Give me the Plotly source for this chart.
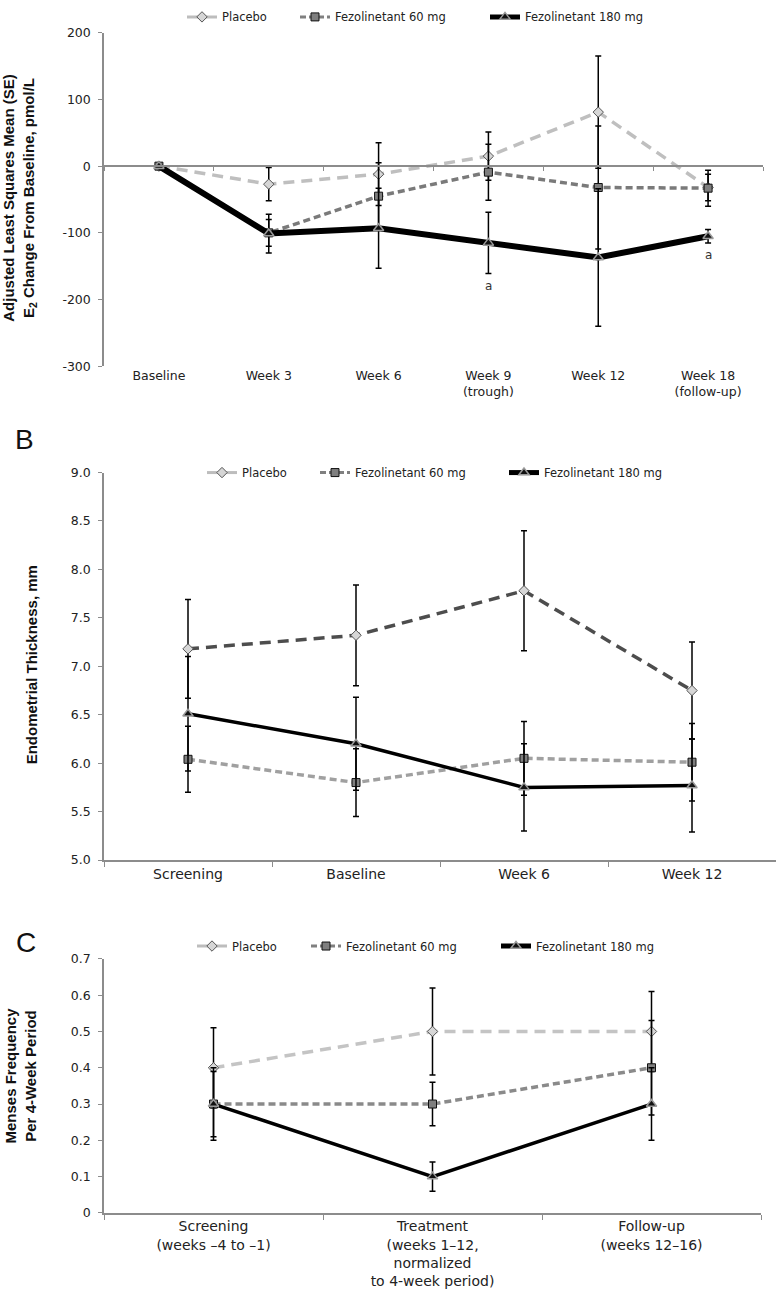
import plotly.graph_objects as go

# ---------------- Data ----------------
series_names = ["Placebo", "Fezolinetant 60 mg", "Fezolinetant 180 mg"]

# Panel A: E2 change from baseline (pmol/L)
a_cats = ["Baseline", "Week 3", "Week 6", "Week 9<br>(trough)", "Week 12", "Week 18<br>(follow-up)"]
a_placebo = [0, -27, -12, 15, 81, -32]
a_placebo_se = [None, 25, 47, 36, 84, 20]
a_fez60 = [0, -100, -45, -9, -32, -33]
a_fez60_se = [None, 20, 50, 42, 92, 27]
a_fez180 = [0, -101, -93, -115, -137, -105]
a_fez180_se = [None, 29, 60, 46, 103, 10]
a_sig_idx = [3, 5]  # points marked "a"
a_yticks = [-300, -200, -100, 0, 100, 200]
a_yticktext = ["-300", "-200", "-100", "0", "100", "200"]

# Panel B: Endometrial thickness (mm)
b_cats = ["Screening", "Baseline", "Week 6", "Week 12"]
b_placebo = [7.18, 7.32, 7.78, 6.75]
b_placebo_se = [0.51, 0.52, 0.62, 0.50]
b_fez60 = [6.04, 5.80, 6.05, 6.01]
b_fez60_se = [0.34, 0.35, 0.38, 0.40]
b_fez180 = [6.51, 6.20, 5.75, 5.77]
b_fez180_se = [0.59, 0.48, 0.45, 0.48]
b_yticks = [5.0, 5.5, 6.0, 6.5, 7.0, 7.5, 8.0, 8.5, 9.0]

# Panel C: Menses frequency per 4-week period
c_cats = ["Screening<br>(weeks \u20134 to \u20131)",
          "Treatment<br>(weeks 1\u201312,<br>normalized<br>to 4-week period)",
          "Follow-up<br>(weeks 12\u201316)"]
c_placebo = [0.40, 0.50, 0.50]
c_placebo_se = [0.11, 0.12, 0.11]
c_fez60 = [0.30, 0.30, 0.40]
c_fez60_se = [0.09, 0.06, 0.13]
c_fez180 = [0.30, 0.10, 0.30]
c_fez180_se = [0.10, 0.04, 0.10]
c_yticks = [0, 0.1, 0.2, 0.3, 0.4, 0.5, 0.6, 0.7]

# ---------------- Styles ----------------
W, H = 776, 1298
TICKFONT = "DejaVu Sans"
TITLEFONT = "Liberation Sans, Arial, sans-serif"
AXC = "#8c8c8c"

def py(px):
    return 1 - px / H

def pxx(px):
    return px / W

marker_styles = [
    dict(symbol="diamond", size=8, color="#d6d6d6", line=dict(color="#555555", width=1)),
    dict(symbol="square", size=8, color="#7f7f7f", line=dict(color="#111111", width=1)),
    dict(symbol="triangle-up", size=9, color="#111111", line=dict(color="#9a9a9a", width=1.5)),
]
legend_lines = [
    dict(color="#bdbdbd", width=3, dash="solid"),
    dict(color="#808080", width=3, dash="6px,3px"),
    dict(color="#000000", width=5, dash="solid"),
]

panel_lines = {
    "A": [dict(color="#bfbfbf", width=3.5, dash="11px,7px"),
          dict(color="#7a7a7a", width=3.5, dash="7px,4px"),
          dict(color="#000000", width=6, dash="solid")],
    "B": [dict(color="#4d4d4d", width=3.5, dash="11px,7px"),
          dict(color="#a0a0a0", width=3.5, dash="7px,4px"),
          dict(color="#000000", width=3.5, dash="solid")],
    "C": [dict(color="#c4c4c4", width=3.5, dash="11px,7px"),
          dict(color="#8a8a8a", width=3.5, dash="7px,4px"),
          dict(color="#000000", width=3.5, dash="solid")],
}

# legend entry positions (line start px, centre y px) per panel
legend_pos = {
    "A": ([188, 301, 491], 9),
    "B": ([208, 321, 510], 470),
    "C": ([198, 312, 502], 949),
}

fig = go.Figure()

panels = [
    ("A", "x", "y", a_cats, [a_placebo, a_fez60, a_fez180], [a_placebo_se, a_fez60_se, a_fez180_se]),
    ("B", "x2", "y2", b_cats, [b_placebo, b_fez60, b_fez180], [b_placebo_se, b_fez60_se, b_fez180_se]),
    ("C", "x3", "y3", c_cats, [c_placebo, c_fez60, c_fez180], [c_placebo_se, c_fez60_se, c_fez180_se]),
]

legend_layouts = {}
lg_n = 0
for key, xa, ya, cats, vals, ses in panels:
    for i in range(3):
        fig.add_trace(go.Scatter(
            x=cats, y=vals[i], mode="lines+markers", xaxis=xa, yaxis=ya,
            line=panel_lines[key][i], marker=marker_styles[i], showlegend=False,
            error_y=dict(type="data", array=ses[i], color="#000000", thickness=1.5, width=3),
            cliponaxis=False,
        ))
    xs, yc = legend_pos[key]
    for i in range(3):
        lg_n += 1
        lg = "legend" if lg_n == 1 else f"legend{lg_n}"
        fig.add_trace(go.Scatter(
            x=[None], y=[None], mode="lines+markers", xaxis=xa, yaxis=ya,
            name=series_names[i], line=legend_lines[i], marker=marker_styles[i],
            legend=lg, showlegend=True,
        ))
        legend_layouts[lg] = dict(orientation="h", x=pxx(xs[i] - 6), xanchor="left", y=py(yc),
                                  yanchor="middle", bgcolor="rgba(0,0,0,0)",
                                  font=dict(family=TICKFONT, size=11.5, color="#222222"))

# "a" significance markers in panel A
for idx in a_sig_idx:
    fig.add_annotation(x=a_cats[idx], y=a_fez180[idx] - a_fez180_se[idx] - 18, xref="x", yref="y",
                       text="a", showarrow=False, font=dict(family=TICKFONT, size=12, color="#333333"))

# Domains
A_top, A_bot = py(25), py(362.5)
B_top, B_bot = py(470), py(862)
C_top, C_bot = py(962), py(1219)

ycommon = dict(showline=True, linecolor=AXC, linewidth=1.5, ticks="outside", ticklen=4, tickcolor=AXC,
               showgrid=False, zeroline=False, ticklabelstandoff=5,
               tickfont=dict(family=TICKFONT, size=12.5, color="#222222"))

a_zero_pos = A_bot + (0 - (-300)) / 500 * (A_top - A_bot)

fig.update_layout(
    width=W, height=H, margin=dict(l=0, r=0, t=0, b=0),
    paper_bgcolor="white", plot_bgcolor="white",
    # Panel A
    xaxis=dict(domain=[pxx(104), pxx(763)], anchor="free", position=a_zero_pos, type="category",
               categoryarray=a_cats, range=[-0.5, 5.5], showline=True, linecolor=AXC, linewidth=1.5,
               ticks="outside", tickson="boundaries", ticklen=4, tickcolor=AXC, showticklabels=False,
               showgrid=False, zeroline=False),
    xaxis4=dict(domain=[pxx(104), pxx(763)], anchor="y", overlaying="x", type="category",
                categoryarray=a_cats, range=[-0.5, 5.5], showline=False, ticks="", showgrid=False,
                zeroline=False, tickfont=dict(family=TICKFONT, size=12.5, color="#222222"),
                tickvals=a_cats, ticktext=a_cats, ticklabelstandoff=0),
    yaxis=dict(domain=[A_bot, A_top], anchor="x", range=[-300, 200], tickvals=a_yticks,
               ticktext=a_yticktext, **ycommon),
    # Panel B
    xaxis2=dict(domain=[pxx(104), 1.0], anchor="y2", type="category", categoryarray=b_cats,
                range=[-0.5, 3.5], showline=True, linecolor=AXC, linewidth=1.5, ticks="outside",
                tickson="boundaries", ticklen=5, tickcolor=AXC, showgrid=False, zeroline=False,
                tickfont=dict(family=TICKFONT, size=14, color="#222222")),
    yaxis2=dict(domain=[B_bot, B_top], anchor="x2", range=[5.0, 9.0], tickvals=b_yticks,
                tickformat=".1f", **ycommon),
    # Panel C
    xaxis3=dict(domain=[pxx(104), pxx(761)], anchor="y3", type="category", categoryarray=c_cats,
                range=[-0.5, 2.5], showline=True, linecolor=AXC, linewidth=1.5, ticks="outside",
                tickson="boundaries", ticklen=5, tickcolor=AXC, showgrid=False, zeroline=False,
                tickfont=dict(family=TICKFONT, size=14, color="#222222")),
    yaxis3=dict(domain=[C_bot, C_top], anchor="x3", range=[0, 0.7], tickvals=c_yticks,
                ticktext=["0"] + [f"{v:.1f}" for v in c_yticks[1:]], **ycommon),
    **legend_layouts,
)

# Trace on the overlay axis carrying panel A category labels
fig.add_trace(go.Scatter(x=a_cats, y=[None] * len(a_cats), xaxis="x4", yaxis="y",
                         mode="markers", showlegend=False, hoverinfo="skip"))

# Y-axis titles
title_font = dict(family=TITLEFONT, size=15, color="#111111")
fig.add_annotation(x=pxx(20), y=py(192), xref="paper", yref="paper", textangle=-90, showarrow=False,
                   text="<b>Adjusted Least Squares Mean (SE)<br>E<sub>2</sub> Change From Baseline, pmol/L</b>",
                   font=title_font, xanchor="center", yanchor="middle")
fig.add_annotation(x=pxx(31), y=py(665), xref="paper", yref="paper", textangle=-90, showarrow=False,
                   text="<b>Endometrial Thickness, mm</b>", font=title_font,
                   xanchor="center", yanchor="middle")
fig.add_annotation(x=pxx(21), y=py(1080), xref="paper", yref="paper", textangle=-90, showarrow=False,
                   text="<b>Menses Frequency<br>Per 4-Week Period</b>", font=title_font,
                   xanchor="center", yanchor="middle")

# Panel letters
fig.add_annotation(x=pxx(25), y=py(437), xref="paper", yref="paper", showarrow=False, text="B",
                   font=dict(family=TITLEFONT, size=28, color="#111111"), xanchor="center", yanchor="middle")
fig.add_annotation(x=pxx(26), y=py(945), xref="paper", yref="paper", showarrow=False, text="C",
                   font=dict(family=TITLEFONT, size=28, color="#111111"), xanchor="center", yanchor="middle")

fig.write_html("out.html", config={"displayModeBar": False},
               post_script="document.body.style.margin='0';document.body.style.overflow='hidden';")
